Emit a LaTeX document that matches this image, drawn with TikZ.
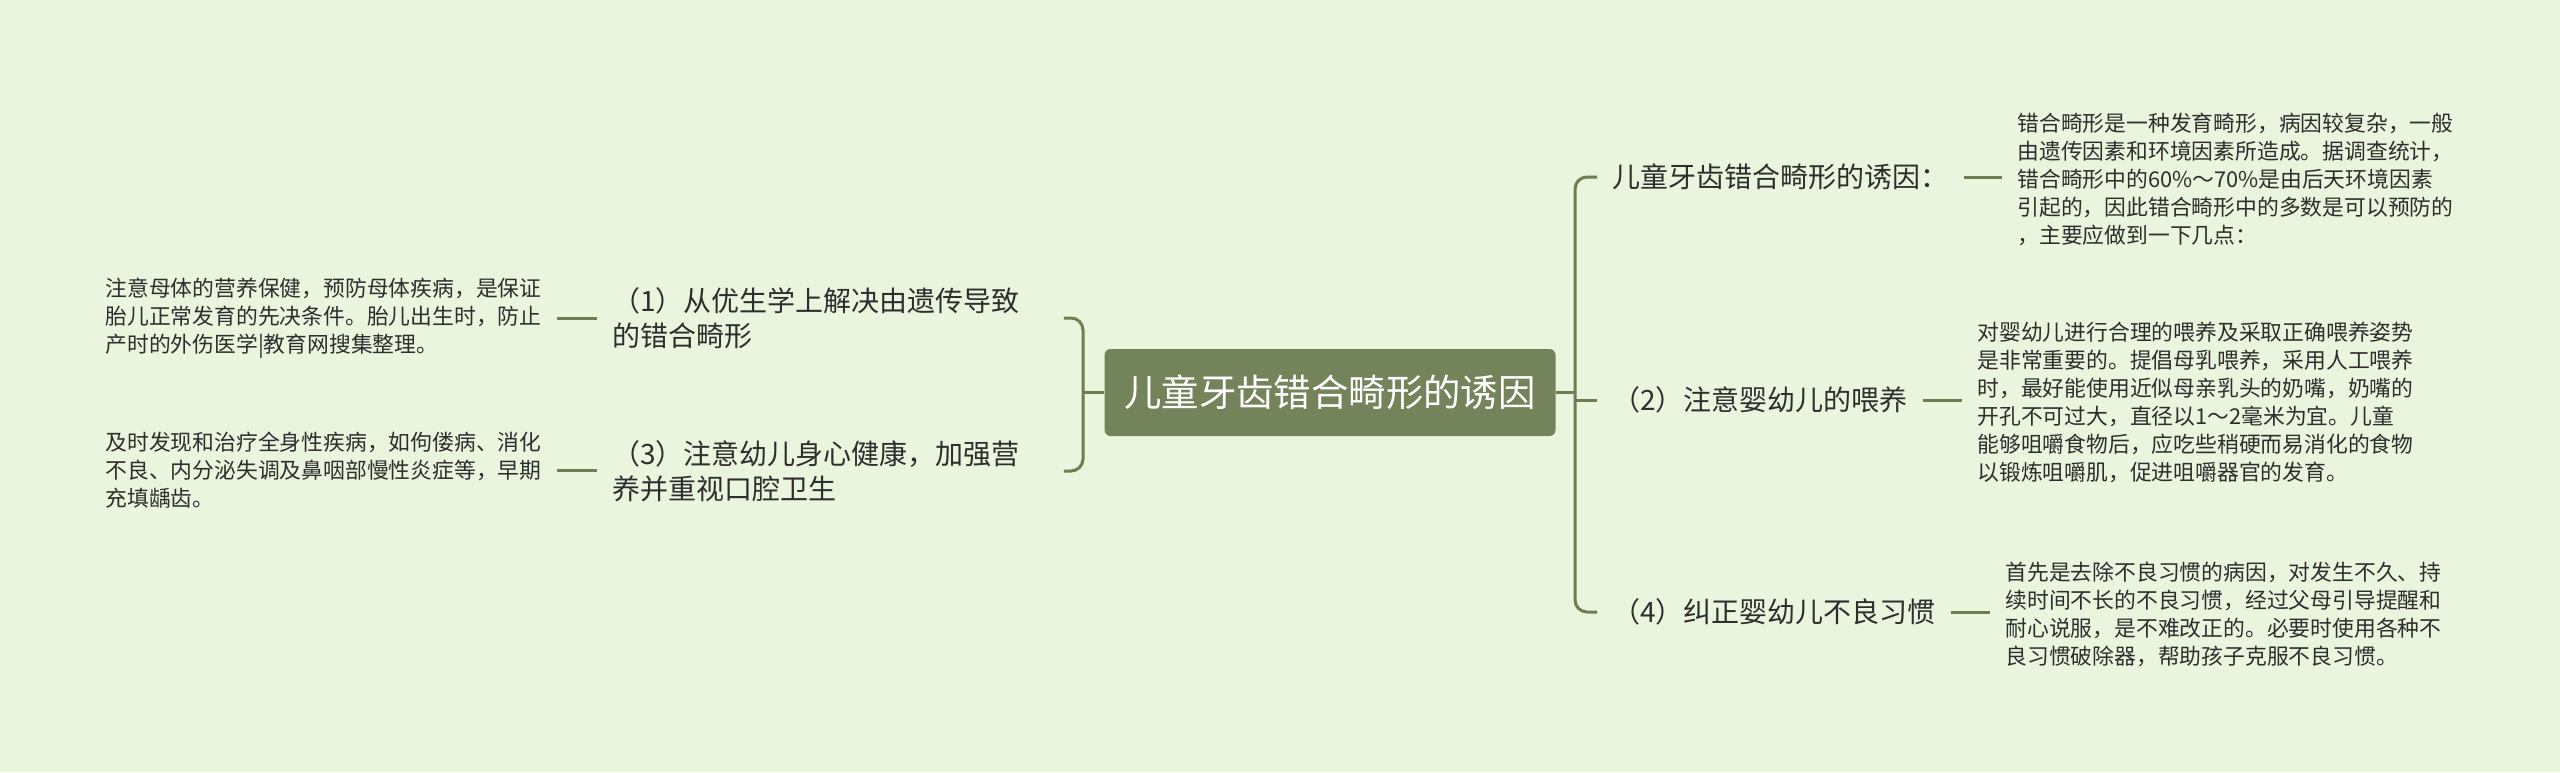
\documentclass[tikz,border=0pt]{standalone}
\usepackage{fontspec}
\newfontfamily\cjk{Noto Sans CJK SC}
\definecolor{bg}{HTML}{E9F5DD}
\definecolor{branch}{HTML}{6F7D52}
\definecolor{topic}{HTML}{74845A}
\definecolor{ink}{HTML}{2E2E2E}

\begin{document}
\begin{tikzpicture}[x=0.5pt, y=-0.5pt,
  link/.style={draw=branch, line width=1.5pt},
  topicbox/.style={fill=topic, rounded corners=3pt, text=white, inner sep=0pt,
    minimum width=225.5pt, minimum height=43.5pt,
    font=\cjk\fontsize{18.7pt}{22pt}\selectfont},
  sub/.style={anchor=west, text=ink, align=left, inner xsep=7.5pt, inner ysep=2pt,
    font=\cjk\fontsize{14pt}{17.5pt}\selectfont},
  note/.style={anchor=west, text=ink, align=left, inner xsep=7.5pt, inner ysep=2pt,
    font=\cjk\fontsize{10.9pt}{14pt}\selectfont}]

% Page
\useasboundingbox (0,0) rectangle (2560,772);
\fill[bg] (0,0) rectangle (2560,772);

% Central topic
\node[topicbox] (root) at (1330,392.5) {儿童牙齿错合畸形的诱因};
\coordinate (hubL) at (1083,392.5);
\coordinate (hubR) at (1575,392.5);

% Left branches
\node[sub, text width=218pt] (c1) at (597,318) {（1）从优生学上解决由遗传导致\\的错合畸形};
\node[sub, text width=218pt] (c3) at (597,471) {（3）注意幼儿身心健康，加强营\\养并重视口腔卫生};
\node[note] (d1) at (90,318) {注意母体的营养保健，预防母体疾病，是保证\\胎儿正常发育的先决条件。胎儿出生时，防止\\产时的外伤医学|教育网搜集整理。};
\node[note] (d3) at (90,470) {及时发现和治疗全身性疾病，如佝偻病、消化\\不良、内分泌失调及鼻咽部慢性炎症等，早期\\充填龋齿。};

% Right branches
\node[sub] (c0) at (1597,177) {儿童牙齿错合畸形的诱因：};
\node[sub] (c2) at (1597,400) {（2）注意婴幼儿的喂养};
\node[sub] (c4) at (1597,612) {（4）纠正婴幼儿不良习惯};
\node[note] (d0) at (2002,179) {错合畸形是一种发育畸形，病因较复杂，一般\\由遗传因素和环境因素所造成。据调查统计，\\错合畸形中的60\%～70\%是由后天环境因素\\引起的，因此错合畸形中的多数是可以预防的\\，主要应做到一下几点：};
\node[note] (d2) at (1962,402) {对婴幼儿进行合理的喂养及采取正确喂养姿势\\是非常重要的。提倡母乳喂养，采用人工喂养\\时，最好能使用近似母亲乳头的奶嘴，奶嘴的\\开孔不可过大，直径以1～2毫米为宜。儿童\\能够咀嚼食物后，应吃些稍硬而易消化的食物\\以锻炼咀嚼肌，促进咀嚼器官的发育。};
\node[note] (d4) at (1990,614) {首先是去除不良习惯的病因，对发生不久、持\\续时间不长的不良习惯，经过父母引导提醒和\\耐心说服，是不难改正的。必要时使用各种不\\良习惯破除器，帮助孩子克服不良习惯。};

% Brackets
\draw[link] (root.west) -- (hubL);
\draw[link, rounded corners=6pt] (c1.east) -| (hubL) |- (c3.east);
\draw[link] (root.east) -- (hubR);
\draw[link, rounded corners=6pt] (c0.west) -| (hubR) |- (c4.west);
\draw[link] (c2.west) -- (c2.west -| hubR);

% Leaves
\draw[link] (d1.east) -- (d1.east -| c1.west);
\draw[link] (d3.east) -- (d3.east -| c3.west);
\draw[link] (c0.east) -- (c0.east -| d0.west);
\draw[link] (c2.east) -- (c2.east -| d2.west);
\draw[link] (c4.east) -- (c4.east -| d4.west);

\end{tikzpicture}
\end{document}
